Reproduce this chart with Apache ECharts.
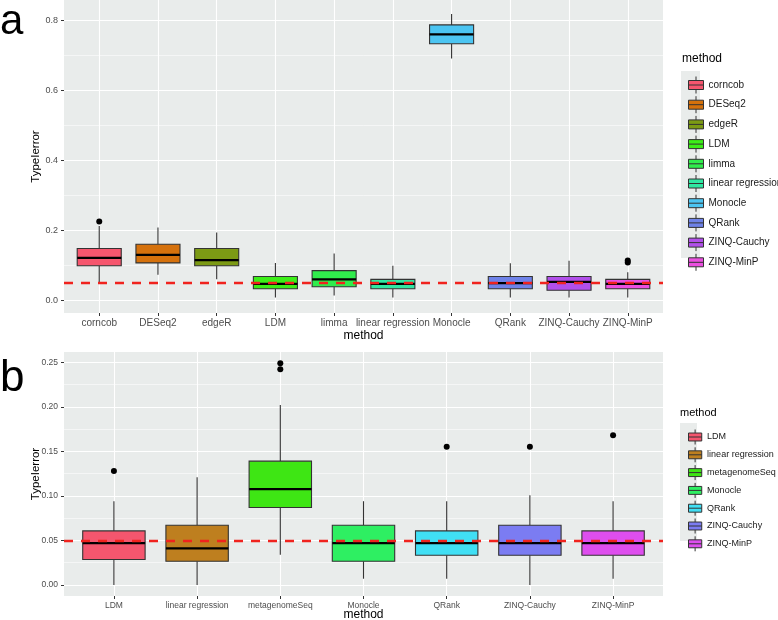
<!DOCTYPE html>
<html>
<head>
<meta charset="utf-8">
<script src="https://cdn.jsdelivr.net/npm/echarts@6.0.0/dist/echarts.min.js"></script>
<style>
  html, body { margin: 0; padding: 0; background: #fff; }
  #chart { width: 778px; height: 620px; }
</style>
</head>
<body>
<div id="chart"></div>
<script>
// panel a: type I error per method
const methodsA = ['corncob', 'DESeq2', 'edgeR', 'LDM', 'limma', 'linear regression', 'Monocle', 'QRank', 'ZINQ-Cauchy', 'ZINQ-MinP'];
const lowA  = [0.051, 0.074, 0.061, 0.009, 0.015, 0.009, 0.691, 0.009, 0.009, 0.009];
const q1A   = [0.100, 0.108, 0.100, 0.034, 0.040, 0.034, 0.733, 0.034, 0.030, 0.034];
const medA  = [0.122, 0.131, 0.116, 0.048, 0.061, 0.048, 0.760, 0.050, 0.054, 0.048];
const q3A   = [0.149, 0.161, 0.149, 0.069, 0.086, 0.061, 0.787, 0.069, 0.069, 0.061];
const highA = [0.213, 0.209, 0.195, 0.108, 0.135, 0.100, 0.818, 0.107, 0.114, 0.081];
const outliersA = [[1, 0.226], [10, 0.109], [10, 0.115]];
const ticksA = [0, 0.2, 0.4, 0.6, 0.8];
const minorTicksA = [0.1, 0.3, 0.5, 0.7];

// panel b
const methodsB = ['LDM', 'linear regression', 'metagenomeSeq', 'Monocle', 'QRank', 'ZINQ-Cauchy', 'ZINQ-MinP'];
const lowB  = [0.000, 0.000, 0.034, 0.007, 0.007, 0.000, 0.007];
const q1B   = [0.0285, 0.0266, 0.087, 0.0266, 0.0333, 0.0333, 0.0333];
const medB  = [0.047, 0.041, 0.1075, 0.047, 0.047, 0.047, 0.047];
const q3B   = [0.0607, 0.067, 0.139, 0.067, 0.0607, 0.067, 0.0607];
const highB = [0.094, 0.121, 0.202, 0.094, 0.094, 0.1007, 0.094];
const outliersB = [[1, 0.128], [3, 0.249], [3, 0.242], [5, 0.155], [6, 0.155], [7, 0.168]];
const ticksB = [0, 0.05, 0.10, 0.15, 0.20, 0.25];
const minorTicksB = [0.025, 0.075, 0.125, 0.175, 0.225];

const nominalLevel = 0.05;

// colours
const coloursA = ['#F6566E', '#D5710C', '#7C9A14', '#3CEE18', '#30EC4C', '#2FE8A2', '#4CC5F2', '#6E82E8', '#B14FEA', '#EB4FE0'];
const coloursB = ['#F4566E', '#BE7F1F', '#3EE614', '#2EEF62', '#40DFF4', '#7B7CF2', '#DE4EEE'];

const FONT = 'Liberation Sans, Arial, sans-serif';
const PANEL = '#E9ECEB';
const keyIcon = 'path://M0,4 H15 V13 H0 Z M0,8.5 H15 M7.5,0 V4 M7.5,13 V17';

const chart = echarts.init(document.getElementById('chart'));

function renderBox(params, api) {
  const x = api.value(0);
  const pLo = api.coord([x, api.value(1)]);
  const pQ1 = api.coord([x, api.value(2)]);
  const pMed = api.coord([x, api.value(3)]);
  const pQ3 = api.coord([x, api.value(4)]);
  const pHi = api.coord([x, api.value(5)]);
  const w = api.size([0.75, 0])[0];
  const cx = pMed[0];
  return {
    type: 'group',
    children: [
      { type: 'line', shape: { x1: cx, y1: pHi[1], x2: cx, y2: pQ3[1] }, style: { stroke: '#333', lineWidth: 1.1 } },
      { type: 'line', shape: { x1: cx, y1: pQ1[1], x2: cx, y2: pLo[1] }, style: { stroke: '#333', lineWidth: 1.1 } },
      { type: 'rect', shape: { x: cx - w / 2, y: pQ3[1], width: w, height: pQ1[1] - pQ3[1] },
        style: { fill: api.visual('color'), stroke: '#333', lineWidth: 1.1 } },
      { type: 'line', shape: { x1: cx - w / 2, y1: pMed[1], x2: cx + w / 2, y2: pMed[1] }, style: { stroke: '#000', lineWidth: 2.2 } }
    ]
  };
}

function boxSeries(names, low, q1, med, q3, high, colours, axisIdx, prefix) {
  return names.map((name, i) => ({
    type: 'custom',
    name: prefix + name,
    xAxisIndex: axisIdx,
    yAxisIndex: axisIdx * 2,
    renderItem: renderBox,
    clip: false,
    itemStyle: { color: colours[i] },
    data: [[i + 1, low[i], q1[i], med[i], q3[i], high[i]]]
  }));
}

function outlierSeries(points, axisIdx) {
  return {
    type: 'scatter',
    xAxisIndex: axisIdx,
    yAxisIndex: axisIdx * 2,
    symbolSize: 6,
    itemStyle: { color: '#000', opacity: 1 },
    data: points,
    z: 4,
    markLine: {
      silent: true,
      symbol: ['none', 'none'],
      label: { show: false },
      lineStyle: { color: '#F0231E', type: [9, 8], width: 2.4, opacity: 1 },
      data: [{ yAxis: nominalLevel }]
    }
  };
}

function xAxis(gridIdx, names, fontSize, nameGap) {
  const cats = names.map((n, i) => i + 1);
  return {
    type: 'value',
    gridIndex: gridIdx,
    position: 'bottom',
    min: 0.4,
    max: names.length + 0.6,
    name: 'method',
    nameLocation: 'middle',
    nameGap: nameGap,
    nameMoveOverlap: false,
    nameTextStyle: { fontFamily: FONT, fontSize: 12, color: '#000' },
    axisLine: { show: false, onZero: false },
    axisTick: { show: true, length: 3, lineStyle: { color: '#333' }, customValues: cats },
    axisLabel: { customValues: cats, margin: 5, fontFamily: FONT, fontSize: fontSize, color: '#4D4D4D',
      formatter: v => names[Math.round(v) - 1] || '' },
    splitLine: { show: true, lineStyle: { color: '#fff', width: 1.1 } }
  };
}

function yAxes(gridIdx, min, max, ticks, minor, digits, fontSize) {
  return [{
    type: 'value',
    gridIndex: gridIdx,
    position: 'left',
    min: min,
    max: max,
    name: 'TypeIerror',
    nameLocation: 'middle',
    nameGap: 22,
    nameMoveOverlap: false,
    nameTextStyle: { fontFamily: FONT, fontSize: 11.5, color: '#000' },
    axisLine: { show: false, onZero: false },
    axisTick: { show: true, length: 3, lineStyle: { color: '#333' }, customValues: ticks },
    axisLabel: { customValues: ticks, margin: 6, fontFamily: FONT, fontSize: fontSize, color: '#4D4D4D',
      formatter: v => v.toFixed(digits) },
    splitLine: { show: true, lineStyle: { color: '#fff', width: 1.1 } }
  }, {
    type: 'value',
    gridIndex: gridIdx,
    position: 'right',
    min: min,
    max: max,
    axisLine: { show: false, onZero: false },
    axisTick: { show: false, customValues: minor },
    axisLabel: { show: false, customValues: minor },
    splitLine: { show: true, lineStyle: { color: '#fff', width: 0.55 } }
  }];
}

function legend(names, prefix, top, size, gap, fontSize) {
  return {
    orient: 'vertical',
    left: 683,
    top: top,
    icon: keyIcon,
    itemWidth: size[0],
    itemHeight: size[1],
    itemGap: gap,
    selectedMode: false,
    data: names.map(n => prefix + n),
    formatter: n => n.slice(prefix.length),
    itemStyle: { borderColor: '#333', borderWidth: 1 },
    textStyle: { fontFamily: FONT, fontSize: fontSize, color: '#1A1A1A' }
  };
}

const option = {
  animation: false,
  backgroundColor: '#fff',
  grid: [
    { left: 64, right: 115, top: 0, bottom: 307, outerBoundsMode: 'none', show: true, backgroundColor: PANEL, borderWidth: 0 },
    { left: 64, right: 115, top: 352, bottom: 24, outerBoundsMode: 'none', show: true, backgroundColor: PANEL, borderWidth: 0 }
  ],
  xAxis: [xAxis(0, methodsA, 10, 17), xAxis(1, methodsB, 8.5, 13)],
  yAxis: [
    ...yAxes(0, -0.035, 0.858, ticksA, minorTicksA, 1, 9),
    ...yAxes(1, -0.0124, 0.2615, ticksB, minorTicksB, 2, 8.5)
  ],
  legend: [
    legend(methodsA, '', 71, [15, 17], 1.7, 10),
    legend(methodsB, 'b:', 424, [14, 15], 1.8, 9)
  ],
  graphic: [
    { type: 'rect', left: 681, top: 71, shape: { width: 19, height: 187 }, style: { fill: PANEL }, z: -1 },
    { type: 'rect', left: 680, top: 423, shape: { width: 17, height: 118 }, style: { fill: PANEL }, z: -1 },
    { type: 'text', x: 0, y: 22, style: { text: 'a', font: '42px ' + FONT, fill: '#000', verticalAlign: 'middle' } },
    { type: 'text', x: 0, y: 379, style: { text: 'b', font: '44px ' + FONT, fill: '#000', verticalAlign: 'middle' } },
    { type: 'text', x: 682, y: 59, style: { text: 'method', font: '12px ' + FONT, fill: '#000', verticalAlign: 'middle' } },
    { type: 'text', x: 680, y: 413, style: { text: 'method', font: '11px ' + FONT, fill: '#000', verticalAlign: 'middle' } }
  ],
  series: [
    ...boxSeries(methodsA, lowA, q1A, medA, q3A, highA, coloursA, 0, ''),
    outlierSeries(outliersA, 0),
    ...boxSeries(methodsB, lowB, q1B, medB, q3B, highB, coloursB, 1, 'b:'),
    outlierSeries(outliersB, 1)
  ]
};

chart.setOption(option);
</script>
</body>
</html>
